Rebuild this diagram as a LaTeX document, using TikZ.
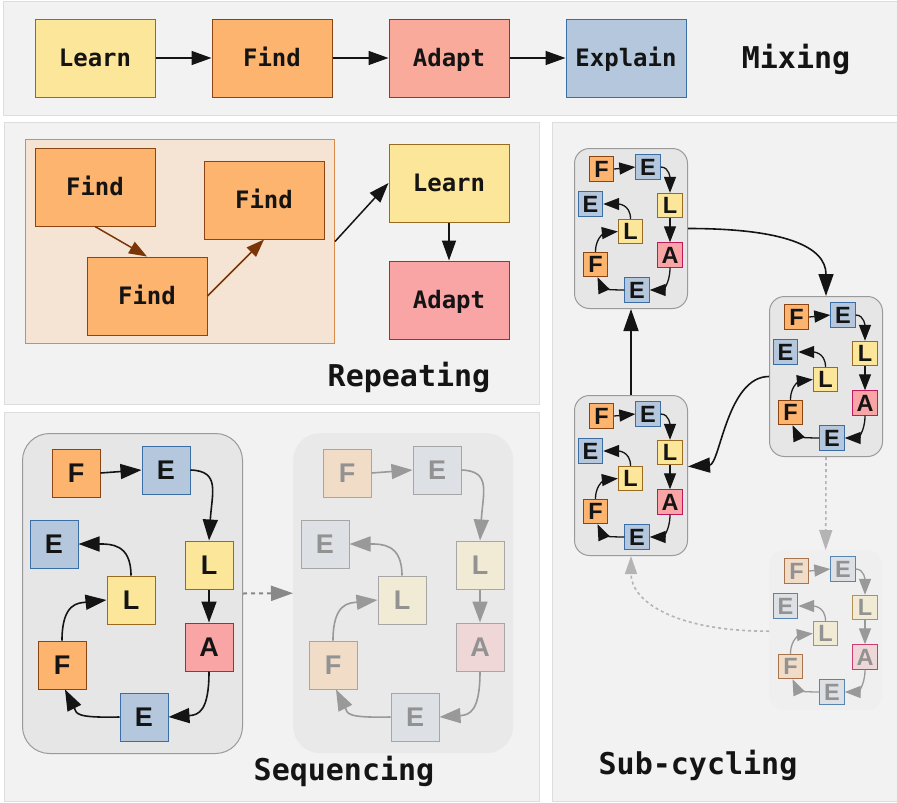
\documentclass[tikz,border=0pt]{standalone}
\usepackage{fontspec}
\setmainfont{Liberation Sans}
\newfontfamily\monofont{DejaVu Sans Mono}
\usetikzlibrary{arrows.meta}
\definecolor{learnF}{HTML}{FCE699}
\definecolor{learnD}{HTML}{9A6B1E}
\definecolor{findF}{HTML}{FCB46F}
\definecolor{findD}{HTML}{8B4513}
\definecolor{adaptF}{HTML}{F9AA9B}
\definecolor{adaptP}{HTML}{F9A4A5}
\definecolor{adaptD}{HTML}{C2185B}
\definecolor{explF}{HTML}{B4C7DD}
\definecolor{explD}{HTML}{3B6EA5}
\definecolor{tanF}{HTML}{F5E4D4}
\definecolor{tanD}{HTML}{D98B4B}
\definecolor{brownA}{HTML}{7B3608}
\definecolor{panelF}{HTML}{F2F2F2}
\definecolor{panelD}{HTML}{DDDDDD}
\definecolor{grpF}{HTML}{E6E6E6}
\definecolor{grpD}{HTML}{9A9A9A}
\definecolor{fgrpF}{HTML}{E9E9E9}
\definecolor{hgrpF}{HTML}{EFEFEF}
\definecolor{fF}{HTML}{F1DCC8}
\definecolor{fE}{HTML}{DDE1E5}
\definecolor{fL}{HTML}{F1EAD5}
\definecolor{fA}{HTML}{EFD7D8}
\definecolor{fD}{HTML}{A6A6A6}
\definecolor{fT}{HTML}{929292}
\definecolor{fArr}{HTML}{999999}
\definecolor{dotA}{HTML}{888888}
\definecolor{dotB}{HTML}{B4B4B4}
\definecolor{ink}{HTML}{141414}

\tikzset{
  box/.style={draw, line width=1pt, minimum width=120pt, minimum height=78pt, inner sep=0pt,
    font=\monofont\bfseries\fontsize{24}{24}\selectfont, text height=17.5pt, text depth=0pt, text=ink},
  bLearn/.style={box, fill=learnF, draw=learnD},
  bFind/.style={box, fill=findF, draw=findD},
  bAdapt/.style={box, fill=adaptF, draw=adaptD},
  bAdaptP/.style={box, fill=adaptP, draw=adaptD},
  bExpl/.style={box, fill=explF, draw=explD},
  ttl/.style={font=\monofont\bfseries\fontsize{30}{30}\selectfont, anchor=base, text=ink, inner sep=0pt},
  panel/.style={fill=panelF, draw=panelD, line width=1pt},
  sq/.style={minimum size=48pt, inner sep=0pt, line width=1pt,
    font=\bfseries\fontsize{27}{27}\selectfont, text height=19.4pt, text depth=0pt},
  ssq/.style={minimum size=24.5pt, inner sep=0pt, line width=0.9pt,
    font=\bfseries\fontsize{23.5}{23.5}\selectfont, text height=16.9pt, text depth=0pt},
  cFn/.style={fill=findF, draw=findD, text=ink},
  cEn/.style={fill=explF, draw=explD, text=ink},
  cLn/.style={fill=learnF, draw=learnD, text=ink},
  cAn/.style={fill=adaptP, draw=adaptD, text=ink},
  cFg/.style={fill=fF, draw=fD, text=fT},
  cEg/.style={fill=fE, draw=fD, text=fT},
  cLg/.style={fill=fL, draw=fD, text=fT},
  cAg/.style={fill=fA, draw=fD, text=fT},
  cFh/.style={fill=fF, draw=findD!75, text=fT},
  cEh/.style={fill=fE, draw=explD!85, text=fT},
  cLh/.style={fill=fL, draw=learnD!75, text=fT},
  cAh/.style={fill=fA, draw=adaptD!85, text=fT},
  bgrpn/.style={fill=grpF, draw=grpD, line width=1pt, rounded corners=27pt},
  bgrpg/.style={fill=fgrpF, draw=none, rounded corners=27pt},
  sgrpn/.style={fill=grpF, draw=grpD, line width=1pt, rounded corners=15pt},
  sgrph/.style={fill=hgrpF, draw=none, rounded corners=15pt},
  barrn/.style={draw=ink, line width=1.6pt, -{Triangle[length=21pt,width=15pt]}},
  barrg/.style={draw=fArr, line width=1.6pt, -{Triangle[length=21pt,width=15pt]}},
  sarrn/.style={draw=ink, line width=1.3pt, -{Triangle[length=16pt,width=12pt]}},
  sarrh/.style={draw=fArr, line width=1.3pt, -{Triangle[length=16pt,width=12pt]}},
  marr/.style={draw=ink, line width=1.5pt, -{Triangle[length=20pt,width=14pt]}},
  brarr/.style={draw=brownA, line width=1.5pt, -{Triangle[length=18pt,width=13pt]}},
  garr/.style={draw=ink, line width=1.6pt, -{Triangle[length=22pt,width=15pt]}},
}

\newcommand\bigcyc[4]{%
\begin{scope}[shift={(#2,#3)}]
\node[bgrp#4, anchor=north west, minimum width=220pt, minimum height=320pt, inner sep=0pt] (#1) at (0,0) {};
\node[sq, cF#4] (#1F1) at (54,40) {F};
\node[sq, cE#4] (#1E1) at (144,37) {E};
\node[sq, cE#4] (#1E2) at (32,111) {E};
\node[sq, cL#4] (#1L1) at (187,132) {L};
\node[sq, cL#4] (#1L2) at (109,167) {L};
\node[sq, cA#4] (#1A) at (187,214) {A};
\node[sq, cF#4] (#1F2) at (40,232) {F};
\node[sq, cE#4] (#1E3) at (122,284) {E};
\draw[barr#4] (#1F1.east) -- (#1E1.west);
\draw[barr#4] (#1E1.east) .. controls +(30,1) and +(3,-48) .. (#1L1.north);
\draw[barr#4] (#1L1.south) -- (#1A.north);
\draw[barr#4] (#1A.south) .. controls +(0,40) and +(30,-2) .. (#1E3.east);
\draw[barr#4] (#1E3.west) .. controls +(-45,1) and +(12,24) .. ([xshift=3pt]#1F2.south);
\draw[barr#4] (#1F2.north) .. controls +(0,-38) and +(-28,3) .. (#1L2.west);
\draw[barr#4] (#1L2.north) .. controls +(0,-32) and +(32,0) .. (#1E2.east);
\end{scope}}

\newcommand\smallcyc[4]{%
\begin{scope}[shift={(#2,#3)}]
\node[sgrp#4, anchor=north west, minimum width=113pt, minimum height=160pt, inner sep=0pt] (#1) at (0,0) {};
\node[ssq, cF#4] (#1F1) at (27.5,21) {F};
\node[ssq, cE#4] (#1E1) at (74,19) {E};
\node[ssq, cE#4] (#1E2) at (16.5,56) {E};
\node[ssq, cL#4] (#1L1) at (96,57.5) {L};
\node[ssq, cL#4] (#1L2) at (56.5,83.5) {L};
\node[ssq, cA#4] (#1A) at (96,107) {A};
\node[ssq, cF#4] (#1F2) at (21.5,116.5) {F};
\node[ssq, cE#4] (#1E3) at (63,142) {E};
\draw[sarr#4] (#1F1.east) -- (#1E1.west);
\draw[sarr#4] (#1E1.east) .. controls +(9,0) and +(0,-14) .. (#1L1.north);
\draw[sarr#4] (#1L1.south) -- (#1A.north);
\draw[sarr#4] (#1A.south) .. controls +(0,17) and +(12,0) .. (#1E3.east);
\draw[sarr#4] (#1E3.west) .. controls +(-18,0) and +(5,11) .. ([xshift=2pt]#1F2.south);
\draw[sarr#4] (#1F2.north) .. controls +(0,-17) and +(-10,1) .. (#1L2.west);
\draw[sarr#4] (#1L2.north) .. controls +(0,-15) and +(14,0) .. (#1E2.east);
\end{scope}}

\begin{document}
\begin{tikzpicture}[x=1pt,y=-1pt]
\useasboundingbox (0,0) rectangle (897,803);
\fill[white] (0,0) rectangle (897,803);

% panels
\draw[panel] (3,1) rectangle (897,115);
\draw[panel] (4,122) rectangle (539,404);
\draw[panel] (4,412) rectangle (539,801);
\draw[panel] (552,122) rectangle (897,801);

% Mixing
\node[bLearn] (mL) at (95,58) {Learn};
\node[bFind] (mF) at (272,58) {Find};
\node[bAdapt] (mA) at (449,58) {Adapt};
\node[bExpl] (mE) at (626,58) {Explain};
\draw[marr] (mL) -- (mF);
\draw[marr] (mF) -- (mA);
\draw[marr] (mA) -- (mE);
\node[ttl] (tMix) at (796,68) {Mixing};

% Repeating
\node[fill=tanF, draw=tanD, line width=1pt, anchor=north west, minimum width=309pt, minimum height=204pt, inner sep=0pt] (tan) at (25,139) {};
\node[bFind] (rF1) at (95,187) {Find};
\node[bFind] (rF2) at (264,200) {Find};
\node[bFind] (rF3) at (147,296) {Find};
\node[bLearn] (rL) at (449,183) {Learn};
\node[bAdaptP] (rA) at (449,300) {Adapt};
\draw[brarr] (rF1.south) -- (rF3.north);
\draw[brarr] (rF3.east) -- (rF2.south);
\draw[marr] (tan.east) -- (rL.west);
\draw[marr] (rL.south) -- (rA.north);
\node[ttl] (tRep) at (409,386) {Repeating};

% Sequencing
\bigcyc{q}{22}{433}{n}
\bigcyc{p}{293}{433}{g}
\draw[draw=dotA, line width=2pt, dash pattern=on 4pt off 4pt, -{Triangle[length=22pt,width=15pt]}] (q.east) -- (p.west);
\node[ttl] (tSeq) at (344,780) {Sequencing};

% Sub-cycling
\smallcyc{ga}{574}{148}{n}
\smallcyc{gb}{769}{296}{n}
\smallcyc{gc}{574}{395}{n}
\smallcyc{gd}{769}{550}{h}
\draw[garr] (ga.east) .. controls +(95,0) and +(0,-50) .. (gb.north);
\draw[garr] (gc.north) -- (ga.south);
\draw[garr] (gb.west) .. controls +(-42,0) and +(32,-2) .. ([yshift=9pt]gc.east);
\draw[draw=dotB, line width=1.6pt, dash pattern=on 3pt off 3pt, -{Triangle[length=20pt,width=13pt]}] (gb.south) -- (gd.north);
\draw[draw=dotB, line width=1.6pt, dash pattern=on 3pt off 3pt, -{Triangle[length=18pt,width=12pt]}] ([yshift=-1pt]gd.west) .. controls +(-95,0) and +(0,45) .. (gc.south);
\node[ttl] (tSub) at (698,774) {Sub-cycling};
\end{tikzpicture}
\end{document}
